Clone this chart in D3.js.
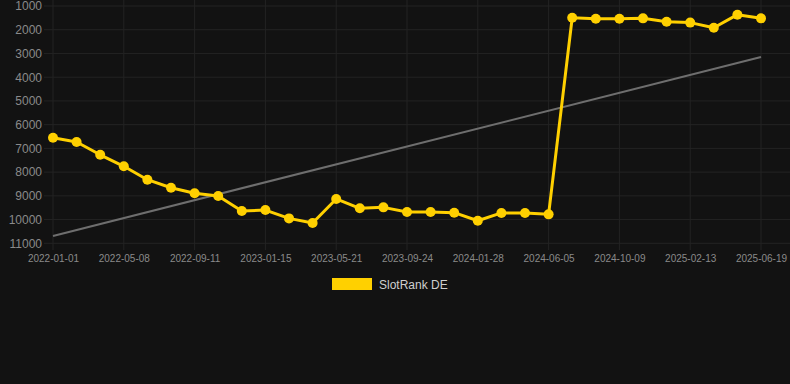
<!DOCTYPE html>
<html><head><meta charset="utf-8">
<script src="https://cdn.jsdelivr.net/npm/d3@7"></script>
<style>
html,body{margin:0;padding:0;background:#121212;}
svg{display:block;}
</style></head>
<body>
<div id="chart"></div>
<script>
const dates = ["2022-01-01","2022-02-12","2022-03-26","2022-05-08","2022-06-19","2022-07-31",
  "2022-09-11","2022-10-23","2022-12-04","2023-01-15","2023-02-26","2023-04-09",
  "2023-05-21","2023-07-02","2023-08-13","2023-09-24","2023-11-05","2023-12-17",
  "2024-01-28","2024-03-11","2024-04-23","2024-06-05","2024-07-17","2024-08-28",
  "2024-10-09","2024-11-20","2025-01-01","2025-02-13","2025-03-27","2025-05-08","2025-06-19"];
const rankValues = [6550,6730,7270,7755,8320,8660,8890,9010,9640,9600,9950,10145,
  9130,9525,9485,9680,9680,9710,10050,9720,9720,9780,1495,1535,1535,1520,1660,1700,1915,1365,1520];
const trendEnds = [10690,3150];
const yTicks = [1000,2000,3000,4000,5000,6000,7000,8000,9000,10000,11000];
const seriesName = "SlotRank DE";

const W = 790, H = 384;
const svg = d3.select("#chart").append("svg").attr("width",W).attr("height",H);
svg.append("rect").attr("width",W).attr("height",H).attr("fill","#121212");

const x = d3.scalePoint().domain(dates).range([53,761]);
const y = d3.scaleLinear().domain([1000,11000]).range([6,243.3]);

// horizontal grid
svg.append("g").selectAll("line").data(yTicks).join("line")
  .attr("x1",44).attr("x2",W).attr("y1",d=>y(d)).attr("y2",d=>y(d))
  .attr("stroke","#232323").attr("stroke-width",1);

const tickDates = dates.filter((d,i)=>i%3===0);
// vertical grid
svg.append("g").selectAll("line").data(tickDates).join("line")
  .attr("x1",d=>x(d)).attr("x2",d=>x(d)).attr("y1",0).attr("y2",250)
  .attr("stroke","#232323").attr("stroke-width",1);

// y axis labels
const yAxis = d3.axisLeft(y).tickValues(yTicks).tickSize(0).tickPadding(0).tickFormat(d3.format("d"));
const gy = svg.append("g").attr("transform","translate(42,0)").call(yAxis);
gy.select(".domain").remove();
gy.selectAll("text").attr("fill","#8a8a8a").style("font-family","Liberation Sans, Arial, sans-serif").style("font-size","12px");

// x axis labels
const xAxis = d3.axisBottom(x).tickValues(tickDates).tickSize(0).tickPadding(0);
const gx = svg.append("g").attr("transform","translate(0,255)").call(xAxis);
gx.select(".domain").remove();
gx.selectAll("text").attr("fill","#8a8a8a").attr("dy","0.71em").style("font-family","Liberation Sans, Arial, sans-serif").style("font-size","10px");

// trend line
svg.append("line")
  .attr("x1",x(dates[0])).attr("y1",y(trendEnds[0]))
  .attr("x2",x(dates[dates.length-1])).attr("y2",y(trendEnds[1]))
  .attr("stroke","#6e6e6e").attr("stroke-width",2);

// data line
const pts = dates.map((d,i)=>({d, v: rankValues[i]}));
svg.append("path").datum(pts)
  .attr("d", d3.line().x(p=>x(p.d)).y(p=>y(p.v)))
  .attr("fill","none").attr("stroke","#FFD000").attr("stroke-width",3).attr("stroke-linejoin","round");
svg.append("g").selectAll("circle").data(pts).join("circle")
  .attr("cx",p=>x(p.d)).attr("cy",p=>y(p.v)).attr("r",5).attr("fill","#FFD000");

// legend
svg.append("rect").attr("x",332).attr("y",278).attr("width",40).attr("height",12).attr("fill","#FFD000");
svg.append("text").attr("x",379).attr("y",288.5).text(seriesName)
  .attr("fill","#cfcfcf").style("font-family","Liberation Sans, Arial, sans-serif").style("font-size","12px");
</script>
</body></html>
